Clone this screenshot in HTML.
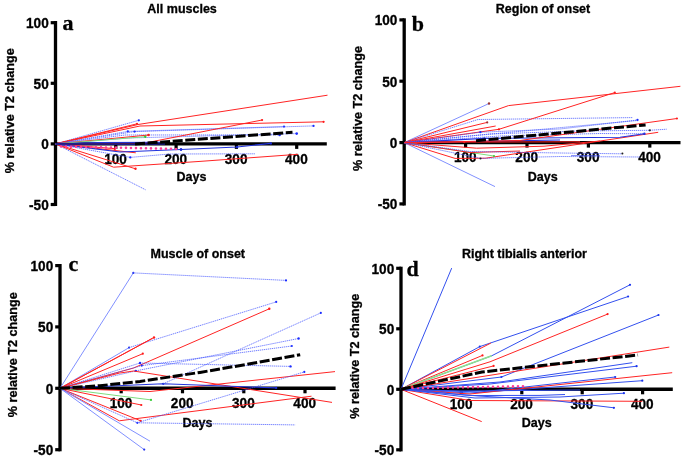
<!DOCTYPE html>
<html><head><meta charset="utf-8"><style>
html,body{margin:0;padding:0;background:#fff;width:685px;height:459px;overflow:hidden}
svg{display:block;filter:blur(0.4px)}
text{font-family:"Liberation Sans",sans-serif;font-weight:bold;fill:#000;stroke:#000;stroke-width:0.3px}
.tl{font-size:13.6px}
.tt{font-size:12.5px}
.yl{font-size:12.65px}
.pl{font-family:"Liberation Serif",serif;font-size:22px}
</style></head><body>
<svg width="685" height="459" viewBox="0 0 685 459">
<g>
<path d="M55.5 21.1V206.1" stroke="#000" stroke-width="3.3" fill="none"/>
<path d="M55.5 143.9H326.8" stroke="#000" stroke-width="3.4" fill="none"/>
<path d="M50.7 22.7H55.5" stroke="#000" stroke-width="3.2"/>
<text class="tl" transform="translate(48.7 27.9) scale(1 1.05)" text-anchor="end">100</text>
<path d="M50.7 83.3H55.5" stroke="#000" stroke-width="3.2"/>
<text class="tl" transform="translate(48.7 88.5) scale(1 1.05)" text-anchor="end">50</text>
<path d="M50.7 143.9H55.5" stroke="#000" stroke-width="3.2"/>
<text class="tl" transform="translate(48.7 149.1) scale(1 1.05)" text-anchor="end">0</text>
<path d="M50.7 204.5H55.5" stroke="#000" stroke-width="3.2"/>
<text class="tl" transform="translate(48.7 209.7) scale(1 1.05)" text-anchor="end">-50</text>
<path d="M115.8 143.9V148.9" stroke="#000" stroke-width="3.2"/>
<text class="tl" transform="translate(115.5 163.7) scale(1 1.05)" text-anchor="middle">100</text>
<path d="M176.1 143.9V148.9" stroke="#000" stroke-width="3.2"/>
<text class="tl" transform="translate(175.8 163.7) scale(1 1.05)" text-anchor="middle">200</text>
<path d="M236.4 143.9V148.9" stroke="#000" stroke-width="3.2"/>
<text class="tl" transform="translate(236.1 163.7) scale(1 1.05)" text-anchor="middle">300</text>
<path d="M296.7 143.9V148.9" stroke="#000" stroke-width="3.2"/>
<text class="tl" transform="translate(296.4 163.7) scale(1 1.05)" text-anchor="middle">400</text>
<text class="tt" x="182.1" y="13.1" text-anchor="middle">All muscles</text>
<text class="tt" x="191.5" y="181.1" text-anchor="middle">Days</text>
<text class="yl" transform="translate(14.1 110.8) rotate(-90)" x="0" y="0" text-anchor="middle">% relative T2 change</text>
<text class="pl" x="62.5" y="29.6">a</text>
<path d="M55.5 143.9 L145.6 189.8" stroke="#4455ff" stroke-width="1" stroke-dasharray="1.3 0.7" fill="none" opacity="0.75"/>
<path d="M55.5 143.9 L113.6 167.2 L200.0 161.4 L298.0 154.3" stroke="#ff2424" stroke-width="1" fill="none"/>
<path d="M55.5 143.9 L135.5 168.8" stroke="#ff2424" stroke-width="1" fill="none"/><circle cx="135.5" cy="168.8" r="1.2" fill="#ff1a1a"/>
<path d="M55.5 143.9 L114.8 148.7" stroke="#ff2424" stroke-width="1" fill="none"/><circle cx="114.8" cy="148.7" r="1.2" fill="#ff1a1a"/>
<path d="M55.5 143.9 L135.8 152.8" stroke="#ff2424" stroke-width="1" fill="none"/>
<path d="M55.5 143.9 L130.3 157.4 L170.0 154.0 L255.0 153.8" stroke="#4455ff" stroke-width="1" stroke-dasharray="1.3 0.7" fill="none" opacity="0.75"/><circle cx="130.3" cy="157.4" r="1.15" fill="#1a2cff"/>
<path d="M55.5 143.9 L120.0 152.0 L181.0 149.5 L237.2 147.0 L270.8 143.4" stroke="#2233dd" stroke-width="1.1" fill="none"/><circle cx="181.0" cy="149.5" r="1.2" fill="#1a2cdd"/><circle cx="237.2" cy="147.0" r="1.2" fill="#1a2cdd"/><circle cx="270.8" cy="143.4" r="1.2" fill="#1a2cdd"/>
<path d="M55.5 143.9 L138.8 120.3" stroke="#4455ff" stroke-width="1" stroke-dasharray="1.3 0.7" fill="none" opacity="0.75"/><circle cx="138.8" cy="120.3" r="1.15" fill="#1a2cff"/>
<path d="M55.5 143.9 L137.0 123.8" stroke="#ff2424" stroke-width="1" fill="none"/><circle cx="137.0" cy="123.8" r="1.1" fill="#ff1a1a"/>
<path d="M55.5 143.9 L138.0 124.5 L327.5 95.2" stroke="#ff2424" stroke-width="1" fill="none"/>
<path d="M55.5 143.9 L140.0 126.0 L323.6 121.8" stroke="#ff2424" stroke-width="1" fill="none"/><circle cx="323.6" cy="121.8" r="1.1" fill="#ff1a1a"/>
<path d="M55.5 143.9 L127.8 131.4 L284.0 126.6" stroke="#4455ff" stroke-width="1" stroke-dasharray="1.3 0.7" fill="none" opacity="0.75"/><circle cx="127.8" cy="131.4" r="1.15" fill="#1a2cff"/><circle cx="284.0" cy="126.6" r="1.15" fill="#1a2cff"/>
<path d="M55.5 143.9 L134.6 131.6 L313.5 125.9" stroke="#4455ff" stroke-width="1" stroke-dasharray="1.3 0.7" fill="none" opacity="0.75"/><circle cx="134.6" cy="131.6" r="1.15" fill="#1a2cff"/><circle cx="313.5" cy="125.9" r="1.15" fill="#1a2cff"/>
<path d="M55.5 143.9 L125.0 135.0 L279.6 134.9" stroke="#4455ff" stroke-width="1" stroke-dasharray="1.3 0.7" fill="none" opacity="0.75"/><circle cx="279.6" cy="134.9" r="1.3" fill="#1a2cff"/>
<path d="M55.5 143.9 L128.0 138.0 L296.7 133.6" stroke="#4455ff" stroke-width="1" stroke-dasharray="1.3 0.7" fill="none" opacity="0.75"/><circle cx="296.7" cy="133.6" r="1.3" fill="#1a2cff"/>
<path d="M55.5 143.9 L148.6 135.0" stroke="#ff2424" stroke-width="1" fill="none"/><circle cx="148.6" cy="135.0" r="1.2" fill="#ff1a1a"/>
<path d="M55.5 143.9 L145.3 136.7" stroke="#7ddc7d" stroke-width="1" fill="none"/><circle cx="145.3" cy="136.7" r="1.2" fill="#33cc33"/>
<path d="M55.5 143.9 L140.0 144.0 L262.1 120.0" stroke="#ff2424" stroke-width="1" fill="none"/><circle cx="262.1" cy="120.0" r="1.1" fill="#ff1a1a"/>
<path d="M55.5 143.9 L100.0 142.5 L160.0 142.2" stroke="#2233dd" stroke-width="1.1" fill="none"/>
<path d="M55.5 143.9 L130 144.3 L165 144" stroke="#1c1c88" stroke-width="1.6" fill="none"/>
<path d="M135.0 144.0 L292.5 132.3" stroke="#000" stroke-width="3" stroke-dasharray="10 2.6" fill="none"/>
<path d="M61.0 146.5 L179.3 149.0" stroke="#ff3d9a" stroke-width="2.6" stroke-linecap="round" stroke-dasharray="0 5.0" fill="none"/>
<circle cx="181" cy="149.5" r="1.3" fill="#1a2cdd"/>
</g>
<g>
<path d="M404.2 18.3V205.5" stroke="#000" stroke-width="3.3" fill="none"/>
<path d="M404.2 142.6H680.5" stroke="#000" stroke-width="3.4" fill="none"/>
<path d="M399.4 19.9H404.2" stroke="#000" stroke-width="3.2"/>
<text class="tl" transform="translate(397.4 25.1) scale(1 1.05)" text-anchor="end">100</text>
<path d="M399.4 81.2H404.2" stroke="#000" stroke-width="3.2"/>
<text class="tl" transform="translate(397.4 86.5) scale(1 1.05)" text-anchor="end">50</text>
<path d="M399.4 142.6H404.2" stroke="#000" stroke-width="3.2"/>
<text class="tl" transform="translate(397.4 147.8) scale(1 1.05)" text-anchor="end">0</text>
<path d="M399.4 203.9H404.2" stroke="#000" stroke-width="3.2"/>
<text class="tl" transform="translate(397.4 209.1) scale(1 1.05)" text-anchor="end">-50</text>
<path d="M465.6 142.6V147.6" stroke="#000" stroke-width="3.2"/>
<text class="tl" transform="translate(465.3 162.4) scale(1 1.05)" text-anchor="middle">100</text>
<path d="M527.0 142.6V147.6" stroke="#000" stroke-width="3.2"/>
<text class="tl" transform="translate(526.7 162.4) scale(1 1.05)" text-anchor="middle">200</text>
<path d="M588.4 142.6V147.6" stroke="#000" stroke-width="3.2"/>
<text class="tl" transform="translate(588.1 162.4) scale(1 1.05)" text-anchor="middle">300</text>
<path d="M649.8 142.6V147.6" stroke="#000" stroke-width="3.2"/>
<text class="tl" transform="translate(649.5 162.4) scale(1 1.05)" text-anchor="middle">400</text>
<text class="tt" x="543.0" y="13.1" text-anchor="middle">Region of onset</text>
<text class="tt" x="542.7" y="180.6" text-anchor="middle">Days</text>
<text class="yl" transform="translate(362.0 108.5) rotate(-90)" x="0" y="0" text-anchor="middle">% relative T2 change</text>
<text class="pl" x="411.8" y="30.9">b</text>
<path d="M404.2 142.6 L495.0 186.6" stroke="#8090ff" stroke-width="1" fill="none"/>
<path d="M404.2 142.6 L455.0 158.4 L485.7 158.2 L658.2 132.3" stroke="#ff2424" stroke-width="1" fill="none"/>
<path d="M404.2 142.6 L476.6 148.2 L544.0 146.2 L600.0 141.0" stroke="#ff2424" stroke-width="1" fill="none"/>
<path d="M404.2 142.6 L494.0 156.0" stroke="#7ddc7d" stroke-width="1" fill="none"/><circle cx="494.0" cy="156.0" r="1.0" fill="#33cc33"/>
<path d="M404.2 142.6 L470.0 152.5 L520.0 151.0" stroke="#ff2424" stroke-width="1" fill="none"/>
<path d="M404.2 142.6 L480.5 158.4 L560.0 156.5 L640.0 157.0" stroke="#4455ff" stroke-width="1" stroke-dasharray="1.3 0.7" fill="none" opacity="0.75"/>
<path d="M571 155.6 L600 155.4" stroke="#3344ee" stroke-width="0.9" opacity="0.7" fill="none"/>
<path d="M404.2 142.6 L470.0 151.5 L560.0 153.0 L622.4 153.8" stroke="#4455ff" stroke-width="1" stroke-dasharray="1.3 0.7" fill="none" opacity="0.75"/>
<circle cx="622.4" cy="153.6" r="1.0" fill="#222"/><circle cx="480.5" cy="158.4" r="1.0" fill="#222"/>
<path d="M404.2 142.6 L484.3 138.4 L620.0 137.2 L644.4 133.8" stroke="#2233dd" stroke-width="1.1" fill="none"/><circle cx="484.3" cy="138.4" r="1.2" fill="#1a2cdd"/><circle cx="644.4" cy="133.8" r="1.2" fill="#1a2cdd"/>
<path d="M404.2 142.6 L470.0 141.5 L560.0 140.0" stroke="#2233dd" stroke-width="1.1" fill="none"/>
<path d="M404.2 142.6 L464.2 142.1 L580.0 141.8" stroke="#ff2424" stroke-width="1" fill="none"/><circle cx="464.2" cy="142.1" r="1.1" fill="#ff1a1a"/>
<path d="M404.2 142.6 L489.0 103.5" stroke="#8090ff" stroke-width="1" fill="none"/>
<circle cx="489" cy="103.5" r="1.2" fill="#993333"/>
<path d="M404.2 142.6 L508.5 105.6 L680.4 86.3" stroke="#ff2424" stroke-width="1" fill="none"/>
<path d="M404.2 142.6 L478.0 119.5 L632.9 117.6" stroke="#4455ff" stroke-width="1" stroke-dasharray="1.3 0.7" fill="none" opacity="0.75"/>
<path d="M404.2 142.6 L487.2 122.4" stroke="#ff2424" stroke-width="1" fill="none"/>
<circle cx="487.2" cy="122.4" r="1.1" fill="#a03030"/>
<path d="M404.2 142.6 L495.7 126.0" stroke="#ff2424" stroke-width="1" fill="none"/>
<path d="M404.2 142.6 L498.9 129.3 L614.8 92.6" stroke="#ff2424" stroke-width="1" fill="none"/><circle cx="498.9" cy="129.3" r="1.1" fill="#ff1a1a"/><circle cx="614.8" cy="92.6" r="1.1" fill="#ff1a1a"/>
<path d="M404.2 142.6 L480.4 132.2 L560.0 129.0 L637.5 120.0" stroke="#4455ff" stroke-width="1" stroke-dasharray="1.3 0.7" fill="none" opacity="0.75"/><circle cx="480.4" cy="132.2" r="1.15" fill="#1a2cff"/><circle cx="637.5" cy="120.0" r="1.15" fill="#1a2cff"/>
<path d="M404.2 142.6 L470.0 136.0 L637.5 120.5" stroke="#4455ff" stroke-width="1" stroke-dasharray="1.3 0.7" fill="none" opacity="0.75"/>
<path d="M404.2 142.6 L490.0 134.0 L580.0 131.0 L649.8 130.3 L666.7 129.2" stroke="#4455ff" stroke-width="1" stroke-dasharray="1.3 0.7" fill="none" opacity="0.75"/>
<circle cx="649.8" cy="130.3" r="1.1" fill="#222"/>
<path d="M404.2 142.6 L500.0 136.0 L600.0 133.5 L644.4 133.8" stroke="#4455ff" stroke-width="1" stroke-dasharray="1.3 0.7" fill="none" opacity="0.75"/>
<path d="M404.2 142.6 L520.0 140.5 L676.9 118.5" stroke="#ff2424" stroke-width="1" fill="none"/><circle cx="676.9" cy="118.5" r="1.1" fill="#ff1a1a"/>
<path d="M476.0 140.8 L645.6 124.9" stroke="#000" stroke-width="3" stroke-dasharray="10 2.6" fill="none"/>
</g>
<g>
<path d="M60.0 264.0V451.3" stroke="#000" stroke-width="3.3" fill="none"/>
<path d="M60.0 388.3H335.6" stroke="#000" stroke-width="3.4" fill="none"/>
<path d="M55.2 265.6H60.0" stroke="#000" stroke-width="3.2"/>
<text class="tl" transform="translate(53.2 270.8) scale(1 1.05)" text-anchor="end">100</text>
<path d="M55.2 326.9H60.0" stroke="#000" stroke-width="3.2"/>
<text class="tl" transform="translate(53.2 332.1) scale(1 1.05)" text-anchor="end">50</text>
<path d="M55.2 388.3H60.0" stroke="#000" stroke-width="3.2"/>
<text class="tl" transform="translate(53.2 393.5) scale(1 1.05)" text-anchor="end">0</text>
<path d="M55.2 449.7H60.0" stroke="#000" stroke-width="3.2"/>
<text class="tl" transform="translate(53.2 454.9) scale(1 1.05)" text-anchor="end">-50</text>
<path d="M121.2 388.3V393.3" stroke="#000" stroke-width="3.2"/>
<text class="tl" transform="translate(121.0 408.1) scale(1 1.05)" text-anchor="middle">100</text>
<path d="M182.5 388.3V393.3" stroke="#000" stroke-width="3.2"/>
<text class="tl" transform="translate(182.2 408.1) scale(1 1.05)" text-anchor="middle">200</text>
<path d="M243.8 388.3V393.3" stroke="#000" stroke-width="3.2"/>
<text class="tl" transform="translate(243.4 408.1) scale(1 1.05)" text-anchor="middle">300</text>
<path d="M305.0 388.3V393.3" stroke="#000" stroke-width="3.2"/>
<text class="tl" transform="translate(304.7 408.1) scale(1 1.05)" text-anchor="middle">400</text>
<text class="tt" x="197.8" y="258.1" text-anchor="middle">Muscle of onset</text>
<text class="tt" x="197.4" y="426.6" text-anchor="middle">Days</text>
<text class="yl" transform="translate(17.2 354.7) rotate(-90)" x="0" y="0" text-anchor="middle">% relative T2 change</text>
<text class="pl" x="68.5" y="270.8">c</text>
<path d="M60.0 388.3 L133.3 272.9" stroke="#8090ff" stroke-width="1" fill="none"/><circle cx="133.3" cy="272.9" r="1.1" fill="#2233ee"/>
<path d="M133.3 272.9 L286.0 280.4" stroke="#4455ff" stroke-width="1" stroke-dasharray="1.3 0.7" fill="none" opacity="0.75"/><circle cx="286.0" cy="280.4" r="1.1" fill="#1a2cff"/>
<path d="M60.0 388.3 L129.1 347.6" stroke="#8090ff" stroke-width="1" fill="none"/><circle cx="129.1" cy="347.6" r="1.1" fill="#2233ee"/>
<path d="M129.1 347.6 L276.2 301.9" stroke="#4455ff" stroke-width="1" stroke-dasharray="1.3 0.7" fill="none" opacity="0.75"/><circle cx="276.2" cy="301.9" r="1.1" fill="#1a2cff"/>
<path d="M60.0 388.3 L152.0 338.5" stroke="#ff2424" stroke-width="1" fill="none"/>
<path d="M60.0 388.3 L154.0 337.5" stroke="#ff2424" stroke-width="1" fill="none"/><circle cx="154.0" cy="337.5" r="1.2" fill="#ff1a1a"/>
<path d="M60.0 388.3 L142.8 353.7" stroke="#ff2424" stroke-width="1" fill="none"/><circle cx="142.8" cy="353.7" r="1.1" fill="#ff1a1a"/>
<path d="M60.0 388.3 L133.6 368.0 L269.3 308.8" stroke="#ff2424" stroke-width="1" fill="none"/><circle cx="269.3" cy="308.8" r="1.2" fill="#ff1a1a"/>
<path d="M60.0 388.3 L140.0 363.0 L290.5 366.4" stroke="#4455ff" stroke-width="1" stroke-dasharray="1.3 0.7" fill="none" opacity="0.75"/><circle cx="140.0" cy="363.0" r="1.2" fill="#1a2cff"/><circle cx="290.5" cy="366.4" r="1.2" fill="#1a2cff"/>
<path d="M60.0 388.3 L141.8 365.6 L291.8 346.0" stroke="#4455ff" stroke-width="1" stroke-dasharray="1.3 0.7" fill="none" opacity="0.75"/><circle cx="141.8" cy="365.6" r="1.1" fill="#1a2cff"/><circle cx="291.8" cy="346.0" r="1.1" fill="#1a2cff"/>
<path d="M60.0 388.3 L135.8 370.9 L298.6 338.5" stroke="#4455ff" stroke-width="1" stroke-dasharray="1.3 0.7" fill="none" opacity="0.75"/><circle cx="135.8" cy="370.9" r="1.2" fill="#1a2cff"/><circle cx="298.6" cy="338.5" r="1.2" fill="#1a2cff"/>
<path d="M60.0 388.3 L119.3 373.1 L133.6 371.0 L332.0 402.4" stroke="#ff2424" stroke-width="1" fill="none"/>
<path d="M60.0 388.3 L150.0 391.5 L335.0 371.6" stroke="#ff2424" stroke-width="1" fill="none"/>
<path d="M60.0 388.3 L163.2 383.8 L276.2 387.9" stroke="#2233dd" stroke-width="1.1" fill="none"/><circle cx="163.2" cy="383.8" r="1.1" fill="#1a2cdd"/><circle cx="276.2" cy="387.9" r="1.1" fill="#1a2cdd"/>
<path d="M163.2 383.8 L320.8 312.9" stroke="#4455ff" stroke-width="1" stroke-dasharray="1.3 0.7" fill="none" opacity="0.75"/><circle cx="320.8" cy="312.9" r="1.1" fill="#1a2cff"/>
<path d="M60.0 388.3 L151.0 399.9" stroke="#7ddc7d" stroke-width="1" fill="none"/><circle cx="151.0" cy="399.9" r="1.1" fill="#33cc33"/>
<path d="M60.0 388.3 L141.3 405.0" stroke="#ff2424" stroke-width="1" fill="none"/><circle cx="141.3" cy="405.0" r="1.1" fill="#ff1a1a"/>
<path d="M60.0 388.3 L119.3 420.8 L311.5 396.2" stroke="#ff2424" stroke-width="1" fill="none"/>
<path d="M60.0 388.3 L140.7 420.8" stroke="#ff2424" stroke-width="1" fill="none"/><circle cx="140.7" cy="420.8" r="1.1" fill="#ff1a1a"/>
<path d="M60.0 388.3 L137.3 422.8 L295.1 424.9" stroke="#4455ff" stroke-width="1" stroke-dasharray="1.3 0.7" fill="none" opacity="0.75"/><circle cx="137.3" cy="422.8" r="1.1" fill="#1a2cff"/>
<path d="M137.3 422.8 L304.3 371.9" stroke="#4455ff" stroke-width="1" stroke-dasharray="1.3 0.7" fill="none" opacity="0.75"/><circle cx="304.3" cy="371.9" r="1.1" fill="#1a2cff"/>
<path d="M60.0 388.3 L150.0 441.2" stroke="#8090ff" stroke-width="1" fill="none"/>
<path d="M60.0 388.3 L144.2 449.6" stroke="#8090ff" stroke-width="1" fill="none"/><circle cx="144.2" cy="449.6" r="1.1" fill="#2233ee"/>
<path d="M60.0 388.3 L100.0 385.7 L140.0 381.4 L200.0 372.4 L250.0 363.8 L300.2 354.7" stroke="#000" stroke-width="3" stroke-dasharray="10 2.6" fill="none"/>
</g>
<g>
<path d="M401.0 266.7V451.4" stroke="#000" stroke-width="3.3" fill="none"/>
<path d="M401.0 389.3H672.8" stroke="#000" stroke-width="3.4" fill="none"/>
<path d="M396.2 268.3H401.0" stroke="#000" stroke-width="3.2"/>
<text class="tl" transform="translate(394.2 273.5) scale(1 1.05)" text-anchor="end">100</text>
<path d="M396.2 328.8H401.0" stroke="#000" stroke-width="3.2"/>
<text class="tl" transform="translate(394.2 334.0) scale(1 1.05)" text-anchor="end">50</text>
<path d="M396.2 389.3H401.0" stroke="#000" stroke-width="3.2"/>
<text class="tl" transform="translate(394.2 394.5) scale(1 1.05)" text-anchor="end">0</text>
<path d="M396.2 449.8H401.0" stroke="#000" stroke-width="3.2"/>
<text class="tl" transform="translate(394.2 455.0) scale(1 1.05)" text-anchor="end">-50</text>
<path d="M461.4 389.3V394.3" stroke="#000" stroke-width="3.2"/>
<text class="tl" transform="translate(461.1 409.1) scale(1 1.05)" text-anchor="middle">100</text>
<path d="M521.8 389.3V394.3" stroke="#000" stroke-width="3.2"/>
<text class="tl" transform="translate(521.5 409.1) scale(1 1.05)" text-anchor="middle">200</text>
<path d="M582.2 389.3V394.3" stroke="#000" stroke-width="3.2"/>
<text class="tl" transform="translate(581.9 409.1) scale(1 1.05)" text-anchor="middle">300</text>
<path d="M642.6 389.3V394.3" stroke="#000" stroke-width="3.2"/>
<text class="tl" transform="translate(642.3 409.1) scale(1 1.05)" text-anchor="middle">400</text>
<text class="tt" x="524.4" y="258.1" text-anchor="middle">Right tibialis anterior</text>
<text class="tt" x="536.7" y="426.6" text-anchor="middle">Days</text>
<text class="yl" transform="translate(359.0 356.2) rotate(-90)" x="0" y="0" text-anchor="middle">% relative T2 change</text>
<text class="pl" x="406.5" y="275.6">d</text>
<path d="M401.0 389.3 L451.7 268.1" stroke="#3350ee" stroke-width="1" fill="none"/>
<path d="M401.0 389.3 L479.8 346.6 L628.1 296.5" stroke="#3350ee" stroke-width="1" fill="none"/><circle cx="479.8" cy="346.6" r="1.1" fill="#1a33ee"/><circle cx="628.1" cy="296.5" r="1.1" fill="#1a33ee"/>
<path d="M401.0 389.3 L490.8 343.1" stroke="#ff2424" stroke-width="1" fill="none"/>
<path d="M401.0 389.3 L482.5 355.4" stroke="#ff2424" stroke-width="1" fill="none"/><circle cx="482.5" cy="355.4" r="1.1" fill="#ff1a1a"/>
<path d="M401.0 389.3 L491.7 355.8 L630.0 284.8" stroke="#3350ee" stroke-width="1" fill="none"/><circle cx="630.0" cy="284.8" r="1.1" fill="#1a33ee"/>
<path d="M401 389.3 L491.7 355.8" stroke="#8ee08e" stroke-width="1.5" fill="none"/>
<path d="M401.0 389.3 L490.0 361.8 L607.6 314.1" stroke="#ff2424" stroke-width="1" fill="none"/><circle cx="607.6" cy="314.1" r="1.1" fill="#ff1a1a"/>
<path d="M401.0 389.3 L493.6 365.9" stroke="#ff2424" stroke-width="1" fill="none"/><circle cx="493.6" cy="365.9" r="1.1" fill="#ff1a1a"/>
<path d="M401.0 389.3 L501.4 377.0 L658.5 315.0" stroke="#3350ee" stroke-width="1" fill="none"/><circle cx="501.4" cy="377.0" r="1.1" fill="#1a33ee"/><circle cx="658.5" cy="315.0" r="1.1" fill="#1a33ee"/>
<path d="M401.0 389.3 L669.3 347.1" stroke="#ff2424" stroke-width="1" fill="none"/>
<path d="M401.0 389.3 L500.0 382.0 L632.3 362.7" stroke="#3350ee" stroke-width="1" fill="none"/>
<path d="M401.0 389.3 L490.0 384.0 L636.6 366.2" stroke="#3350ee" stroke-width="1" fill="none"/><circle cx="636.6" cy="366.2" r="1.1" fill="#1a33ee"/>
<path d="M401.0 389.3 L480.0 392.0 L615.2 377.0" stroke="#3350ee" stroke-width="1" fill="none"/><circle cx="615.2" cy="377.0" r="1.1" fill="#1a33ee"/>
<path d="M401.0 389.3 L470.0 393.0 L642.3 380.7" stroke="#3350ee" stroke-width="1" fill="none"/><circle cx="642.3" cy="380.7" r="1.1" fill="#1a33ee"/>
<path d="M401.0 389.3 L470.0 394.0 L672.2 372.7" stroke="#ff2424" stroke-width="1" fill="none"/>
<path d="M403.0 388.5 L524.2 386.2" stroke="#ff3d9a" stroke-width="2.6" stroke-linecap="round" stroke-dasharray="0 5.0" fill="none"/>
<path d="M401.0 389.3 L481.7 421.6" stroke="#ff2424" stroke-width="1" fill="none"/>
<path d="M401.0 389.3 L470.0 400.5 L642.4 401.3" stroke="#ff2424" stroke-width="1" fill="none"/>
<path d="M401.0 389.3 L475.0 398.0 L560.0 397.0 L623.9 393.2" stroke="#3350ee" stroke-width="1" fill="none"/><circle cx="623.9" cy="393.2" r="1.1" fill="#1a33ee"/>
<path d="M401.0 389.3 L478.0 396.0 L550.0 400.0 L613.9 407.8" stroke="#3350ee" stroke-width="1" fill="none"/><circle cx="613.9" cy="407.8" r="1.1" fill="#1a33ee"/>
<path d="M401.0 389.3 L470.0 395.5 L540.0 395.4 L565.0 394.5" stroke="#3350ee" stroke-width="1" fill="none"/>
<path d="M401.0 389.3 L460.0 391.0 L580.0 390.0" stroke="#3350ee" stroke-width="1" fill="none"/>
<path d="M401.0 389.3 L482.0 372.0 L638.0 355.0" stroke="#000" stroke-width="3" stroke-dasharray="10 2.6" fill="none"/>
</g>
</svg>
</body></html>
